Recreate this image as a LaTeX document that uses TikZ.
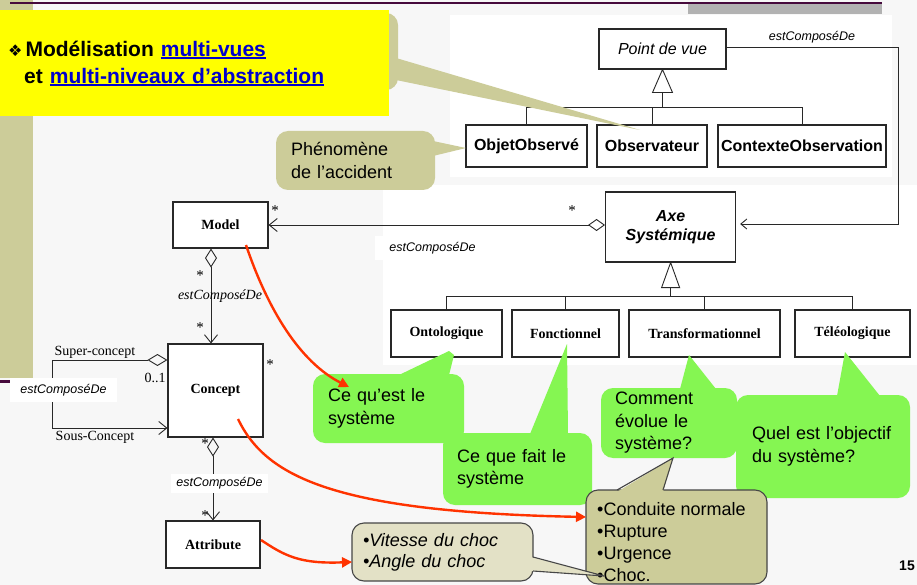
\documentclass[tikz,border=0pt]{standalone}
\usepackage{fontspec}
\setmainfont{Liberation Sans}
\newfontfamily\serifface{Liberation Serif}
\newfontfamily\symface{DejaVu Sans}
\usetikzlibrary{arrows.meta}

\definecolor{pagebg}{RGB}{247,247,247}
\definecolor{tan}{RGB}{204,204,153}
\definecolor{lighttan}{RGB}{227,225,198}
\definecolor{callgreen}{RGB}{133,246,82}
\definecolor{hiyellow}{RGB}{255,255,0}
\definecolor{linkblue}{RGB}{0,0,204}
\definecolor{redline}{RGB}{255,51,0}
\definecolor{plum}{RGB}{70,10,60}
\definecolor{umlline}{RGB}{40,40,40}
\definecolor{bargray}{RGB}{178,178,178}
\definecolor{calloutline}{RGB}{70,70,70}

% underlined hyperlink-like word
\newcommand\linkword[1]{\textcolor{linkblue}{\setbox0=\hbox{#1}\rlap{\rule[-2.5pt]{\wd0}{1.7pt}}\box0}}

\tikzset{
  uml/.style={draw=umlline, line width=0.9pt},
  umlbox/.style={draw=umlline, line width=1.1pt, fill=white, inner sep=1pt},
  sansbig/.style={font=\bfseries\fontsize{16}{19}\selectfont},
  sansital/.style={font=\itshape\fontsize{16}{19}\selectfont},
  axefont/.style={font=\bfseries\itshape\fontsize{16}{18.5}\selectfont},
  serifbold/.style={font=\serifface\bfseries\fontsize{14}{16}\selectfont},
  serifplain/.style={font=\serifface\fontsize{14}{16}\selectfont, inner sep=0pt},
  serifital/.style={font=\serifface\itshape\fontsize{14}{16}\selectfont, inner sep=0pt},
  relname/.style={font=\itshape\fontsize{12.5}{15}\selectfont, inner sep=0pt},
  mult/.style={font=\serifface\fontsize{15}{16}\selectfont, inner sep=0pt},
  aggr/.style={arrows={Diamond[open,length=19pt,width=12pt]-Straight Barb[length=8pt,width=13pt]}},
  callout/.style={rounded corners=12pt, align=left, font=\fontsize{18}{22.5}\selectfont},
  greencall/.style={callout, fill=callgreen},
  redarrow/.style={draw=redline, line width=2.4pt, -{Triangle[length=10pt,width=10pt]}},
}

\begin{document}
\begin{tikzpicture}[x=1pt,y=-1pt]
\useasboundingbox (0,0) rectangle (917,585);

% slide background and frame decorations
\fill[pagebg] (0,0) rectangle (917,585);
\fill[tan] (0,0) rectangle (33,378);
\fill[plum] (0,379.5) rectangle (12,383);
\draw[plum, line width=2.5pt] (10,3) -- (882,3);
\fill[bargray] (688,4.5) rectangle (882,14);

% white panels behind the class diagrams
\fill[white] (450,15) rectangle (892,177);
\fill[white] (383,185) rectangle (917,365);

% ---------- viewpoint classes ----------
\node[umlbox, sansital, minimum width=127pt, minimum height=40pt] (pdv) at (662.5,49) {Point de vue};
\node[umlbox, sansbig, minimum width=121pt, minimum height=42pt] (obj) at (526.5,146) {ObjetObservé};
\node[umlbox, sansbig, minimum width=110pt, minimum height=42pt] (obs) at (652,146) {Observateur};
\node[umlbox, sansbig, minimum width=168pt, minimum height=42pt, inner sep=0pt] (cont) at (802,146) {ContexteObservation};

\draw[uml, fill=white] (pdv.south) -- ++(10,23) -- ++(-20,0) -- cycle;
\coordinate (pdvjoin) at ([yshift=-38pt]pdv.south);
\draw[uml] ([yshift=-23pt]pdv.south) -- (pdvjoin);
\draw[uml] (obj.north) |- (pdvjoin) -| (cont.north);
\draw[uml] (obs.north) -- (obs.north |- pdvjoin);

% ---------- systemic axis classes ----------
\node[umlbox, axefont, align=center, minimum width=130pt, minimum height=70pt] (axe) at (670.6,227) {Axe\\Systémique};
\node[umlbox, serifbold, minimum width=111pt, minimum height=47pt] (onto) at (446.5,333.5) {Ontologique};
\node[umlbox, serifbold, minimum width=107pt, minimum height=47pt] (fonc) at (565.5,333.5) {Fonctionnel};
\node[umlbox, serifbold, minimum width=151pt, minimum height=47pt] (trans) at (704.5,333.5) {Transformationnel};
\node[umlbox, serifbold, minimum width=115pt, minimum height=47pt] (tele) at (852.5,333.5) {Téléologique};

\draw[uml, fill=white] (axe.south) -- ++(9,25) -- ++(-18,0) -- cycle;
\coordinate (axejoin) at ([yshift=-34pt]axe.south);
\draw[uml] ([yshift=-25pt]axe.south) -- (axejoin);
\draw[uml] (onto.north) |- (axejoin) -| (tele.north);
\draw[uml] (fonc.north) -- (fonc.north |- axejoin);
\draw[uml] (trans.north) -- (trans.north |- axejoin);

% Point de vue is composed of systemic axes
\coordinate (pdvturn) at (898,47);
\draw[uml, -{Straight Barb[length=6pt,width=10pt]}, shorten >=4pt]
  ([yshift=2pt]pdv.east) -- (pdvturn) |- ([yshift=3pt]axe.east);
\node[relname] (lblpdv) at (812,37) {estComposéDe};

% ---------- model / concept / attribute ----------
\node[umlbox, serifbold, minimum width=95pt, minimum height=46pt] (model) at (220.5,225) {Model};
\node[umlbox, serifbold, minimum width=95pt, minimum height=93pt] (concept) at (215.5,390.5) {Concept};
\node[umlbox, serifbold, minimum width=94pt, minimum height=47pt] (attr) at (213,544.5) {Attribute};

% axis -> model
\draw[uml, arrows={Diamond[open,length=17pt,width=12pt]-Straight Barb[length=8pt,width=13pt]}]
  (axe.west |- model.east) -- (model.east);
\node[mult] (mmodel) at (275,211) {*};
\node[mult] (maxe) at (572,211) {*};
\node[relname, fill=white, minimum width=115pt, minimum height=24pt] (lblaxe) at (432.5,248) {estComposéDe};

% model -> concept
\draw[uml, aggr] ([xshift=-9.5pt]model.south) -- ([xshift=-4.5pt]concept.north);
\node[mult] (mmc1) at (200,276) {*};
\node[mult] (mmc2) at (200,328) {*};
\node[serifital] (lblmc) at (220,296) {estComposéDe};

% concept self-association
\draw[uml, arrows={Diamond[open,length=20pt,width=12pt]-Straight Barb[length=8pt,width=13pt]}]
  ([yshift=30.5pt]concept.west) -- ++(-115,0) -- ++(0,68) -- ([yshift=-37.5pt]concept.west);
\node[serifplain] (lblsuper) at (95,352) {Super-concept};
\node[serifplain] (lblzero) at (155,378) {0..1};
\node[serifplain] (lblsous) at (95,437) {Sous-Concept};
\node[relname, fill=white, minimum width=107pt, minimum height=24pt] (lblloop) at (63.5,390) {estComposéDe};
\node[mult] (mconcept) at (270,365) {*};

% concept -> attribute
\draw[uml, aggr] ([xshift=-2.5pt]concept.south) -- (attr.north);
\node[mult] (mca1) at (205,444) {*};
\node[mult] (mca2) at (205,516) {*};
\node[relname, fill=white, minimum width=97pt, minimum height=19pt] (lblca) at (219.5,483.5) {estComposéDe};

% ---------- callouts ----------
% callout tucked behind the banner, pointing at Observateur
\fill[tan, rounded corners=12pt] (300,13) rectangle (398,90);
\fill[tan] (396,58) -- (640,130) -- (396,80) -- cycle;

% banner
\node[fill=hiyellow, anchor=north west, minimum height=106pt, inner xsep=8pt, inner ysep=0pt,
      text width=373pt, align=left, font=\bfseries\fontsize{21}{27}\selectfont] (banner) at (0,10)
  {{\symface\mdseries\fontsize{16}{27}\selectfont ❖}\hspace{3pt}Modélisation \linkword{multi-vues}\\
   \hspace*{16pt}et \linkword{multi-niveaux d’abstraction}};

% phenomenon callout
\fill[tan] (433,141) -- (466,148) -- (433,156) -- cycle;
\node[callout, fill=tan, minimum height=59pt, inner xsep=15pt, text width=129pt] (phen) at (355.5,160.5)
  {Phénomène\\de l’accident};

% green callouts for the four axes
\fill[callgreen] (399,375) -- (449,351) -- (454,355) -- (449,375) -- cycle;
\node[greencall, minimum height=69pt, inner xsep=15pt, text width=121pt] (cequest) at (388.5,408.5)
  {Ce qu’est le\\système};

\fill[callgreen] (530,434) -- (567,344) -- (568,434) -- cycle;
\node[greencall, minimum height=72pt, inner xsep=14pt, text width=121pt] (cequefait) at (517.5,469)
  {Ce que fait le\\système};

\fill[callgreen] (680,389) -- (689,355) -- (716,389) -- cycle;
\node[greencall, minimum height=70pt, inner xsep=14pt, text width=108pt] (comment) at (669,423)
  {Comment\\évolue le\\système?};

\fill[callgreen] (837,396) -- (845,352) -- (880,396) -- cycle;
\node[greencall, minimum height=103pt, inner xsep=16pt, text width=142pt] (quel) at (823,446.5)
  {Quel est l’objectif\\du système?};

% states callout
\node[callout, fill=tan, draw=calloutline, line width=1.1pt, minimum width=181pt, minimum height=94pt] (conduite) at (676.5,537) {};
\fill[tan] (617,492) -- (673,458) -- (663,492) -- cycle;
\draw[calloutline, line width=1.1pt] (617,490) -- (673,458) -- (663,490);
\node[anchor=north west, inner sep=0pt, align=left, font=\fontsize{18}{22}\selectfont] (conduitetext) at (597,502)
  {•Conduite normale\\•Rupture\\•Urgence\\•Choc.};

% attribute examples callout
\node[callout, fill=lighttan, draw=calloutline, line width=1.1pt, minimum height=58pt, inner xsep=11pt,
      text width=159pt, font=\itshape\fontsize{18}{21}\selectfont] (vitesse) at (442.5,552)
  {•Vitesse du choc\\•Angle du choc};
\fill[lighttan] (531,557) -- (604,576) -- (531,571) -- cycle;
\draw[calloutline, line width=1.1pt] (533,557) -- (604,576) -- (533,571);

% ---------- red links ----------
\coordinate (rmodel) at (246,245);
\coordinate (rconcept) at (238,419);
\coordinate (rattr) at (261,540);
\coordinate (tcequest) at (349,387);
\coordinate (tconduite) at (586,517);
\coordinate (tvitesse) at (352,562);
\draw[redarrow] (rmodel) .. controls (268,310) and (300,362) .. (tcequest);
\draw[redarrow] (rconcept) .. controls (265,475) and (330,512) .. (tconduite);
\draw[redarrow] (rattr) .. controls (285,556) and (300,564) .. (tvitesse);

% slide number
\node[font=\bfseries\fontsize{14}{16}\selectfont] (pagenum) at (907,566) {15};
\end{tikzpicture}
\end{document}
